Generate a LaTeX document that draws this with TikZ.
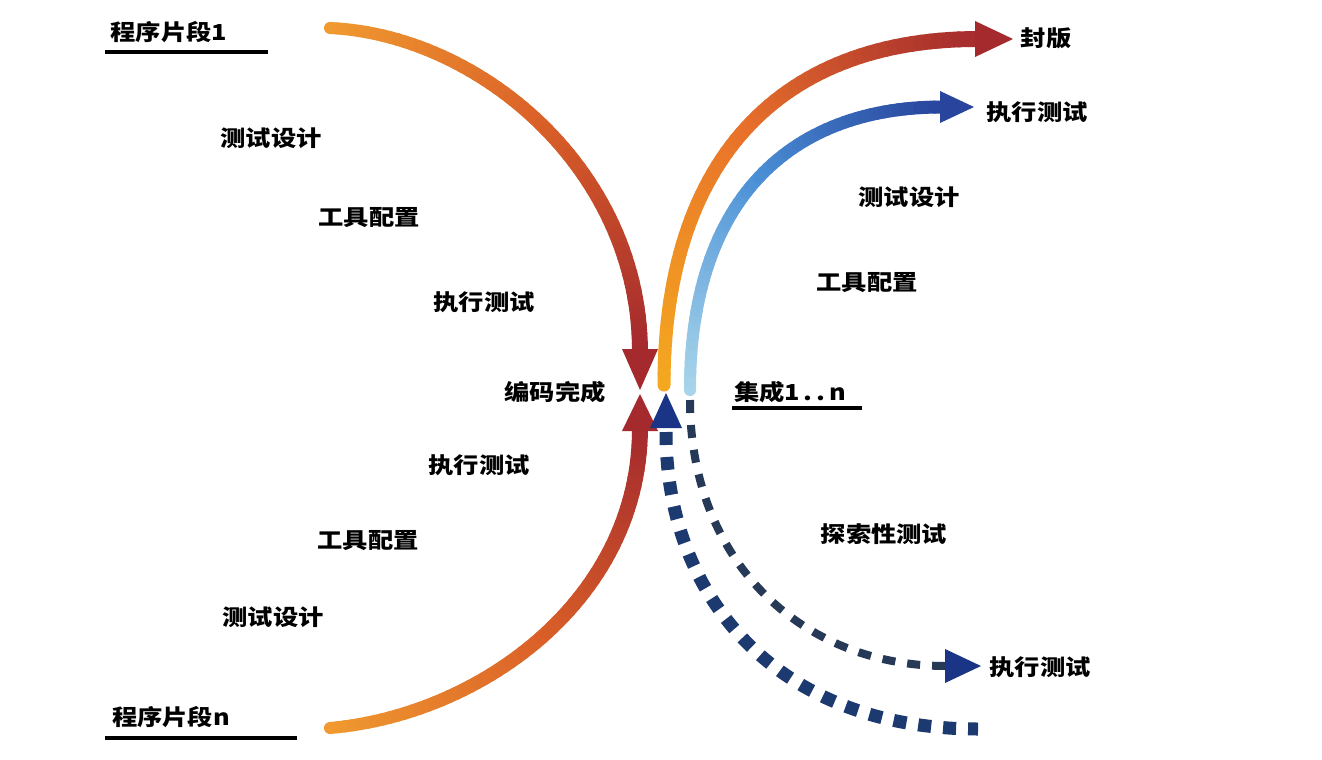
\documentclass[tikz,border=0pt]{standalone}
\usepackage{fontspec}
\newfontfamily\cjk[FakeStretch=1.15]{Noto Sans CJK SC}
\usetikzlibrary{calc}

\definecolor{orA}{HTML}{F09A30}
\definecolor{orB}{HTML}{DA6028}
\definecolor{rdC}{HTML}{A42A2E}
\definecolor{yeA}{HTML}{F4A820}
\definecolor{yeB}{HTML}{E8702A}
\definecolor{blA}{HTML}{A6D4EA}
\definecolor{blB}{HTML}{4A8FD6}
\definecolor{blC}{HTML}{28449C}
\definecolor{navy}{HTML}{1D3A70}
\definecolor{navyarrow}{HTML}{1A3585}
\definecolor{slate}{HTML}{263A58}

% gradient cubic Bezier: #1..#8 = x0 y0 x1 y1 x2 y2 x3 y3
\newcommand\gradbez[8]{%
  \foreach \i in {0,...,59}{%
    \pgfmathsetmacro\ta{\i/60}%
    \pgfmathsetmacro\tb{(\i+1)/60}%
    \pgfmathsetmacro\sa{1-\ta}%
    \pgfmathsetmacro\sb{1-\tb}%
    \pgfmathsetmacro\xa{\sa*\sa*\sa*#1+3*\sa*\sa*\ta*#3+3*\sa*\ta*\ta*#5+\ta*\ta*\ta*#7}%
    \pgfmathsetmacro\ya{\sa*\sa*\sa*#2+3*\sa*\sa*\ta*#4+3*\sa*\ta*\ta*#6+\ta*\ta*\ta*#8}%
    \pgfmathsetmacro\xb{\sb*\sb*\sb*#1+3*\sb*\sb*\tb*#3+3*\sb*\tb*\tb*#5+\tb*\tb*\tb*#7}%
    \pgfmathsetmacro\yb{\sb*\sb*\sb*#2+3*\sb*\sb*\tb*#4+3*\sb*\tb*\tb*#6+\tb*\tb*\tb*#8}%
    \pgfmathsetmacro\lw{\wA+(\wB-\wA)*\ta}%
    \ifnum\i<30
      \pgfmathtruncatemacro\pc{\i*100/30}\colorlet{segc}{gB!\pc!gA}%
    \else
      \pgfmathtruncatemacro\pc{(\i-30)*100/30}\colorlet{segc}{gC!\pc!gB}%
    \fi
    \draw[line width=\lw pt, segc, line cap=round] (\xa,\ya) -- (\xb,\yb);
  }%
}

\tikzset{
  lbl/.style={font=\cjk\bfseries\fontsize{22}{22}\selectfont, text=black, inner sep=0pt},
  uline/.style={line width=3.5pt, black},
}

\begin{document}
\begin{tikzpicture}[x=1pt, y=-1pt]
\fill[white] (0,0) rectangle (1322,760);
\useasboundingbox (0,0) rectangle (1322,760);

% ---- top-left arc (程序片段1 -> 编码完成)
\colorlet{gA}{orA}\colorlet{gB}{orB}\colorlet{gC}{rdC}
\def\wA{12}\def\wB{16}
\gradbez{330}{28}{480}{35}{640}{170}{640}{352}
\coordinate (tlTip) at (640,390);
\fill[rdC] (tlTip) -- (622,349) -- (658,349) -- cycle;

% ---- bottom-left arc (程序片段n -> 编码完成)
\gradbez{330}{728}{480}{715}{640}{600}{640}{428}
\coordinate (blTip) at (640,394);
\fill[rdC] (blTip) -- (622,431) -- (658,431) -- cycle;

% ---- top-right orange arc (-> 封版)
\colorlet{gA}{yeA}\colorlet{gB}{yeB}\colorlet{gC}{rdC}
\def\wA{13}\def\wB{16}
\gradbez{664}{385}{664}{160}{780}{39}{978}{39}
\coordinate (fbTip) at (1013,39);
\fill[rdC] (fbTip) -- (975,21) -- (975,57) -- cycle;

% ---- blue arc (-> 执行测试)
\colorlet{gA}{blA}\colorlet{gB}{blB}\colorlet{gC}{blC}
\def\wA{12}\def\wB{13}
\gradbez{690}{390}{690}{200}{790}{107}{942}{107}
\coordinate (btTip) at (974,107);
\fill[blC] (btTip) -- (940,91) -- (940,123) -- cycle;

% ---- thick dashed navy arc with up arrow
\coordinate (dStart) at (666,432);
\coordinate (dEnd) at (978,729);
\draw[navy, line width=13pt, dash pattern=on 13pt off 12pt]
  (dStart) .. controls (666,600) and (780,729) .. (dEnd);
\coordinate (upTip) at (666,393);
\fill[navyarrow] (upTip) -- (650,428) -- (682,428) -- cycle;

% ---- thin dashed arc -> 执行测试
\coordinate (tStart) at (690,400);
\coordinate (tEnd) at (946,666);
\draw[slate, line width=8pt, dash pattern=on 13pt off 12pt]
  (tStart) .. controls (690,560) and (800,666) .. (tEnd);
\coordinate (ebTip) at (981,666);
\fill[navyarrow] (ebTip) -- (945,649) -- (945,683) -- cycle;

% ---- labels
\node[lbl] (p1) at (169,32) {程序片段1};
\draw[uline] (105,52) -- (268,52);
\node[lbl] (pn) at (171,717) {程序片段n};
\draw[uline] (105,738) -- (297,738);

\node[lbl] (l1) at (271,138) {测试设计};
\node[lbl] (l2) at (369,218) {工具配置};
\node[lbl] (l3) at (484,302) {执行测试};
\node[lbl] (bm) at (555,392) {编码完成};
\node[lbl] (l4) at (479,465) {执行测试};
\node[lbl] (l5) at (368,541) {工具配置};
\node[lbl] (l6) at (273,617) {测试设计};

\node[lbl] (fb) at (1046,38) {封版};
\node[lbl] (r1) at (1037,112) {执行测试};
\node[lbl] (r2) at (909,197) {测试设计};
\node[lbl] (r3) at (867,283) {工具配置};
\node[lbl] (jc) at (790,392) {集成1\,.\,.\,n};
\draw[uline] (732,408) -- (862,408);
\node[lbl] (ts) at (884,534) {探索性测试};
\node[lbl] (r4) at (1040,667) {执行测试};
\end{tikzpicture}
\end{document}
